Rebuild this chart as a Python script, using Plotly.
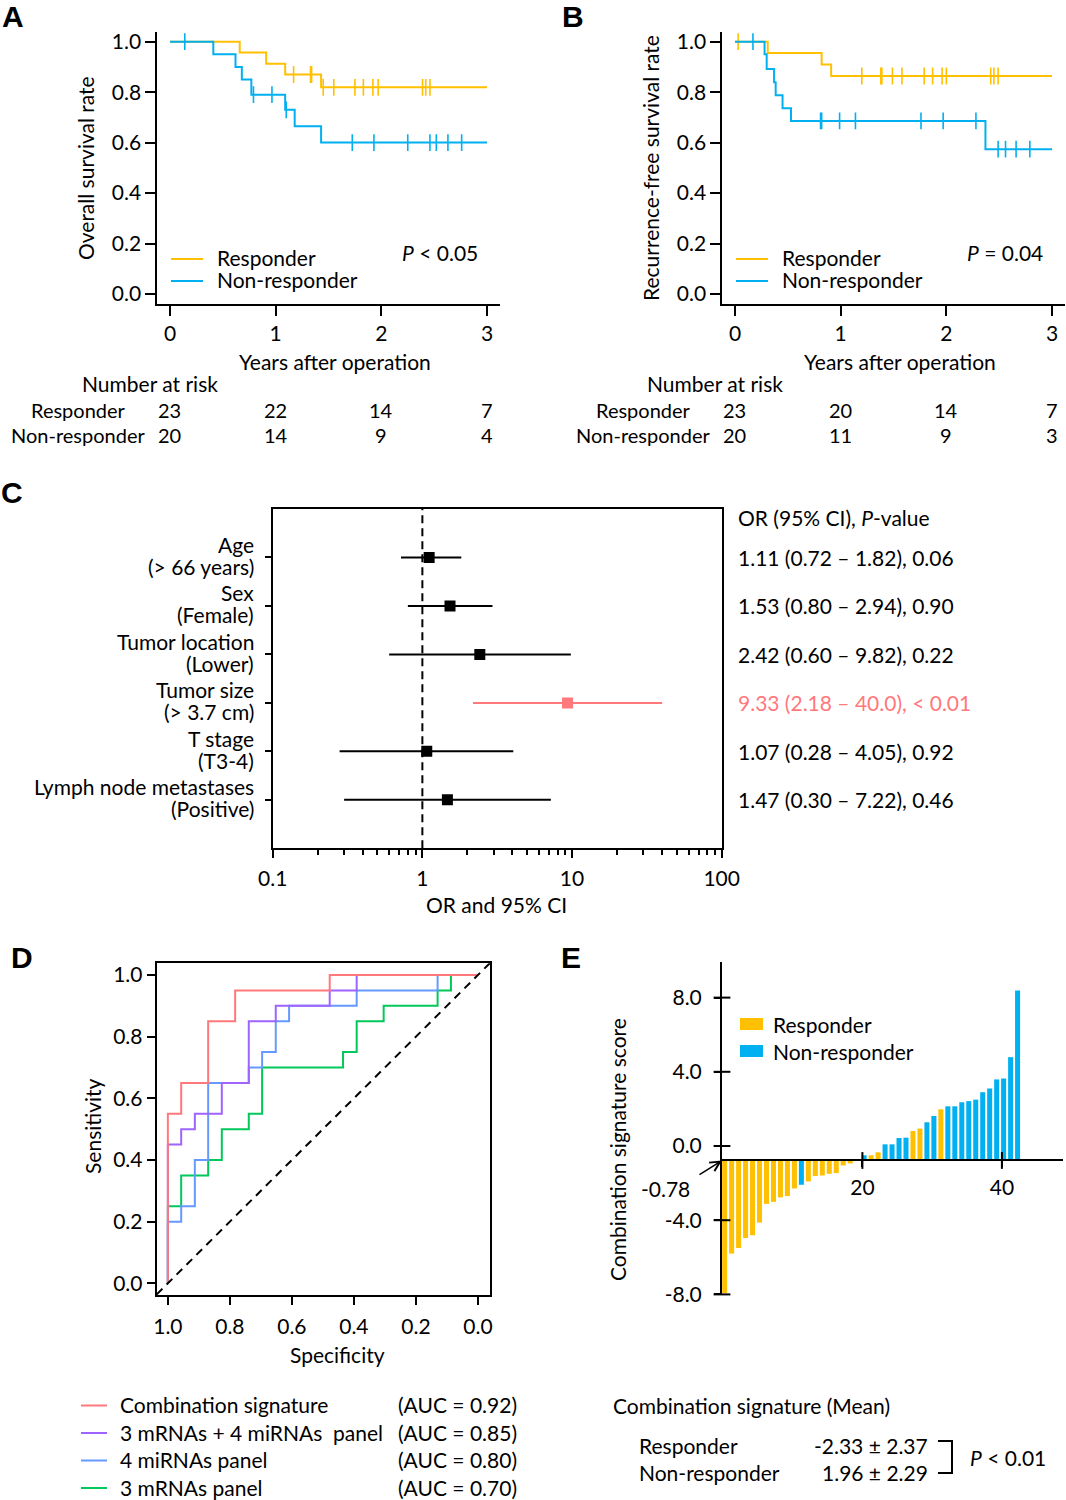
import numpy as np
import plotly.graph_objects as go

W, H = 1066, 1500
def PX(p): return p / W
def PY(p): return 1 - p / H

FONT = "Lato"
FS = 21
YEL = "#FFC000"
BLU = "#00B0F0"
PINK = "#FF787C"

# ---------------- Panel A : overall survival ----------------
a_resp_time = [0.0, 0.66, 0.91, 1.09, 1.43, 3.0]
a_resp_surv = [1.0, 0.957, 0.913, 0.870, 0.819, 0.819]
a_resp_cens = [1.17, 1.33, 1.34, 1.45, 1.55, 1.75, 1.83, 1.92, 1.97, 2.39, 2.42, 2.46]
a_non_time = [0.0, 0.41, 0.62, 0.68, 0.77, 1.09, 1.18, 1.43, 3.0]
a_non_surv = [1.0, 0.95, 0.90, 0.85, 0.79, 0.73, 0.665, 0.60, 0.60]
a_non_cens = [0.14, 0.79, 0.965, 1.10, 1.725, 1.93, 2.25, 2.46, 2.52, 2.63, 2.76]
a_risk_resp = [23, 22, 14, 7]
a_risk_non = [20, 14, 9, 4]

# ---------------- Panel B : recurrence-free survival ----------------
b_resp_time = [0.0, 0.31, 0.82, 0.91, 3.0]
b_resp_surv = [1.0, 0.955, 0.91, 0.864, 0.864]
b_resp_cens = [0.03, 1.20, 1.38, 1.39, 1.49, 1.58, 1.79, 1.87, 1.96, 2.00, 2.42, 2.45, 2.49]
b_non_time = [0.0, 0.28, 0.30, 0.37, 0.385, 0.45, 0.53, 2.37, 3.0]
b_non_surv = [1.0, 0.95, 0.892, 0.839, 0.788, 0.736, 0.686, 0.574, 0.574]
b_non_cens = [0.17, 0.81, 0.82, 0.99, 1.14, 1.76, 1.97, 2.28, 2.49, 2.56, 2.66, 2.79]
b_risk_resp = [23, 20, 14, 7]
b_risk_non = [20, 11, 9, 3]
risk_times = [0, 1, 2, 3]
groups = ["Responder", "Non-responder"]

# ---------------- Panel C : forest plot ----------------
c_vars = ["Age", "Sex", "Tumor location", "Tumor size", "T stage", "Lymph node metastases"]
c_levels = ["(> 66 years)", "(Female)", "(Lower)", "(> 3.7 cm)", "(T3-4)", "(Positive)"]
c_or = [1.11, 1.53, 2.42, 9.33, 1.07, 1.47]
c_lo = [0.72, 0.80, 0.60, 2.18, 0.28, 0.30]
c_hi = [1.82, 2.94, 9.82, 40.0, 4.05, 7.22]
c_p = ["0.06", "0.90", "0.22", "< 0.01", "0.92", "0.46"]

# ---------------- Panel D : ROC curves ----------------
roc_names = ["Combination signature", "3 mRNAs + 4 miRNAs  panel", "4 miRNAs panel", "3 mRNAs panel"]
roc_auc = ["0.92", "0.85", "0.80", "0.70"]
roc_spec = [
    [1.0, 1.0, 0.957, 0.870, 0.783, 0.478, 0.0],
    [1.0, 1.0, 0.957, 0.913, 0.826, 0.739, 0.652, 0.478, 0.391, 0.0],
    [1.0, 1.0, 0.957, 0.913, 0.870, 0.739, 0.696, 0.652, 0.609, 0.391, 0.130, 0.0],
    [1.0, 1.0, 0.957, 0.870, 0.826, 0.739, 0.696, 0.435, 0.391, 0.304, 0.130, 0.087, 0.0],
]
roc_sens = [
    [0.0, 0.55, 0.65, 0.85, 0.95, 1.0, 1.0],
    [0.0, 0.45, 0.50, 0.55, 0.65, 0.85, 0.90, 0.95, 1.0, 1.0],
    [0.0, 0.20, 0.25, 0.40, 0.65, 0.70, 0.75, 0.85, 0.90, 0.95, 1.0, 1.0],
    [0.0, 0.25, 0.35, 0.40, 0.50, 0.55, 0.70, 0.75, 0.85, 0.90, 0.95, 1.0, 1.0],
]
roc_colors = [PINK, "#9F63FF", "#6699FF", "#00C85A"]

# ---------------- Panel E : waterfall ----------------
e_score = [-7.92, -5.80, -5.50, -4.96, -4.81, -4.13, -3.12, -3.01, -2.77, -2.70, -2.29,
           -2.09, -1.91, -1.62, -1.59, -1.50, -1.46, -1.05, -0.94, -0.80, -0.50, -0.50,
           -0.34, 0.09, 0.09, 0.43, 0.45, 0.81, 0.94, 1.28, 1.62, 1.98, 2.14, 2.14, 2.36,
           2.42, 2.50, 2.90, 3.10, 3.59, 3.64, 4.79, 8.38]
e_group = (["R"] * 11 + ["N"] + ["R"] * 7 + ["N", "N", "R", "R", "N", "N", "N", "N",
           "R", "R", "N", "N", "R"] + ["N"] * 11)
e_threshold = -0.78
e_mean_text = ["-2.33 \u00b1 2.37", "1.96 \u00b1 2.29"]

fig = go.Figure()

# ---------- KM curves ----------
def step_at(times, surv, t):
    idx = np.searchsorted(np.array(times), np.array(t), side="right") - 1
    return [surv[i] for i in idx]

def km(times, surv, cens, color, xa, ya, name):
    fig.add_trace(go.Scatter(x=times, y=surv, mode="lines", name=name,
                             line=dict(color=color, width=2, shape="hv"),
                             xaxis=xa, yaxis=ya, showlegend=False, hoverinfo="skip"))
    fig.add_trace(go.Scatter(x=cens, y=step_at(times, surv, cens), mode="markers",
                             marker=dict(symbol="line-ns", size=12, line=dict(color=color, width=1.6)),
                             xaxis=xa, yaxis=ya, showlegend=False, hoverinfo="skip"))

km(a_resp_time, a_resp_surv, a_resp_cens, YEL, "x", "y", groups[0])
km(a_non_time, a_non_surv, a_non_cens, BLU, "x", "y", groups[1])
km(b_resp_time, b_resp_surv, b_resp_cens, YEL, "x2", "y2", groups[0])
km(b_non_time, b_non_surv, b_non_cens, BLU, "x2", "y2", groups[1])

# ---------- forest ----------
rows = list(range(1, len(c_vars) + 1))
sig = [p.startswith("<") for p in c_p]
for flag, col in [(False, "black"), (True, PINK)]:
    xs, ys = [], []
    for r, lo, hi, s in zip(rows, c_lo, c_hi, sig):
        if s == flag:
            xs += [lo, hi, None]
            ys += [r, r, None]
    fig.add_trace(go.Scatter(x=xs, y=ys, mode="lines", line=dict(color=col, width=2),
                             xaxis="x3", yaxis="y3", showlegend=False, hoverinfo="skip"))
    fig.add_trace(go.Scatter(x=[o for o, s in zip(c_or, sig) if s == flag],
                             y=[r for r, s in zip(rows, sig) if s == flag],
                             mode="markers", marker=dict(symbol="square", size=11, color=col),
                             xaxis="x3", yaxis="y3", showlegend=False, hoverinfo="skip"))

# ---------- ROC ----------
for i in reversed(range(len(roc_names))):
    fig.add_trace(go.Scatter(x=roc_spec[i], y=roc_sens[i], mode="lines", name=roc_names[i],
                             line=dict(color=roc_colors[i], width=2, shape="hv"),
                             xaxis="x4", yaxis="y4", showlegend=False, hoverinfo="skip"))

# ---------- waterfall ----------
bar_pos = np.arange(1, len(e_score) + 1) - 0.75
for g, col in [("R", YEL), ("N", BLU)]:
    m = [gg == g for gg in e_group]
    fig.add_trace(go.Bar(x=bar_pos[m], y=[s - e_threshold for s, k in zip(e_score, m) if k],
                         base=e_threshold, width=0.72, marker=dict(color=col, line=dict(width=0)),
                         xaxis="x5", yaxis="y5", showlegend=False, hoverinfo="skip"))

# axis geometry
common = dict(showline=True, linecolor="black", linewidth=2, ticks="outside", tickcolor="black",
              tickwidth=2, showgrid=False, zeroline=False, automargin=False,
              tickfont=dict(family=FONT, size=FS, color="black"))
surv_ticks = [0, 0.2, 0.4, 0.6, 0.8, 1.0]
ex_range = [-0.13, 48.76]
ey_range = [-8.0, 9.92]
ey_dom = [PY(1294.4), PY(962)]
ex_pos = ey_dom[0] + (e_threshold - ey_range[0]) / (ey_range[1] - ey_range[0]) * (ey_dom[1] - ey_dom[0])
d_xr = [1.036, -0.039]
d_yr = [-0.038, 1.038]

fig.update_layout(
    width=W, height=H, margin=dict(l=0, r=0, t=0, b=0, autoexpand=False),
    paper_bgcolor="white", plot_bgcolor="white", showlegend=False,
    font=dict(family=FONT, size=FS, color="black"), barmode="overlay",
    xaxis=dict(domain=[PX(157.3), PX(499.7)], range=[-0.12, 3.12], anchor="y",
               tickvals=risk_times, ticklen=10, **common),
    yaxis=dict(domain=[PY(304.1), PY(31.6)], range=[-0.04, 1.04], anchor="x",
               tickvals=surv_ticks, ticktext=[f"{v:.1f}" for v in surv_ticks], ticklen=10, **common),
    xaxis2=dict(domain=[PX(722.3), PX(1064.7)], range=[-0.12, 3.12], anchor="y2",
                tickvals=risk_times, ticklen=10, **common),
    yaxis2=dict(domain=[PY(304.1), PY(31.6)], range=[-0.04, 1.04], anchor="x2",
                tickvals=surv_ticks, ticktext=[f"{v:.1f}" for v in surv_ticks], ticklen=10, **common),
    xaxis3=dict(domain=[PX(272.7), PX(721.7)], type="log", range=[-1, 2], anchor="y3",
                tickvals=[0.1, 1, 10, 100], ticktext=["0.1", "1", "10", "100"], ticklen=8,
                mirror=True, ticklabelstandoff=2,
                minor=dict(tickvals=[k * 10.0 ** e for e in (-1, 0, 1) for k in range(2, 10)],
                           ticks="outside", ticklen=5, tickcolor="black", tickwidth=1.5),
                **common),
    yaxis3=dict(domain=[PY(848.3), PY(509)], range=[7, 0], anchor="x3", tickvals=rows,
                showticklabels=False, ticklen=6, mirror=True, **common),
    xaxis4=dict(domain=[PX(156.7), PX(490)], range=d_xr, anchor="y4",
                tickvals=[1.0, 0.8, 0.6, 0.4, 0.2, 0.0], ticktext=["1.0", "0.8", "0.6", "0.4", "0.2", "0.0"],
                ticklen=8, mirror=True, ticklabelstandoff=4, **common),
    yaxis4=dict(domain=[PY(1295), PY(963.3)], range=d_yr, anchor="x4",
                tickvals=surv_ticks, ticktext=[f"{v:.1f}" for v in surv_ticks],
                ticklen=8, mirror=True, **common),
    xaxis5=dict(domain=[PX(722), PX(1063)], range=ex_range, anchor="free", position=ex_pos,
                tickvals=[20, 40], ticklen=6, ticklabelstandoff=2, **common),
    yaxis5=dict(domain=ey_dom, range=ey_range, anchor="x5", tickvals=[-8, -4, 0, 4, 8],
                ticktext=[f"{v:.1f}" for v in [-8, -4, 0, 4, 8]], ticklen=6, ticklabelstandoff=8, **common),
)

# crossing tick marks for panel E
fig.add_trace(go.Scatter(x=[20, 40], y=[e_threshold, e_threshold], mode="markers",
                         marker=dict(symbol="line-ns", size=12, line=dict(color="black", width=2)),
                         xaxis="x5", yaxis="y5", cliponaxis=False, showlegend=False, hoverinfo="skip"))
fig.add_trace(go.Scatter(x=[ex_range[0]] * 5, y=[-8, -4, 0, 4, 8], mode="markers",
                         marker=dict(symbol="line-ew", size=12, line=dict(color="black", width=2)),
                         xaxis="x5", yaxis="y5", cliponaxis=False, showlegend=False, hoverinfo="skip"))

# reference lines
fig.add_shape(type="line", xref="x3", yref="y3 domain", x0=1, x1=1, y0=0, y1=1,
              line=dict(color="black", width=2, dash="8px,5px"))
fig.add_shape(type="line", xref="x4", yref="y4", x0=d_xr[0], y0=1 - d_xr[0], x1=d_xr[1], y1=1 - d_xr[1],
              line=dict(color="black", width=2, dash="8px,6px"))

# ---------- text helpers ----------
def T(text, x, y, xanchor="center", size=FS, angle=0, color="black", family=FONT, pad=1):
    fig.add_annotation(text=text, x=PX(x), y=PY(y), xref="paper", yref="paper", xanchor=xanchor,
                       yanchor="middle", showarrow=False, textangle=angle, borderpad=pad,
                       font=dict(family=family, size=size, color=color))

def hline(x0, x1, y, color, width=2):
    fig.add_shape(type="line", xref="paper", yref="paper", x0=PX(x0), x1=PX(x1), y0=PY(y), y1=PY(y),
                  line=dict(color=color, width=width))

# panel letters
for letter, x, y in [("A", 13, 16), ("B", 573, 16), ("C", 12, 492), ("D", 22, 957), ("E", 571, 957)]:
    T(f"<b>{letter}</b>", x, y, size=30, family="Liberation Sans", pad=0)

# Panels A and B texts
RFS = 20
risk_rows_y = [410, 435]
for xoff, ylab, ptxt, xa, rr, rn in [(0, "Overall survival rate", "<i>P</i> < 0.05", "x", a_risk_resp, a_risk_non),
                                     (565, "Recurrence-free survival rate", "<i>P</i> = 0.04", "x2", b_risk_resp, b_risk_non)]:
    T(ptxt, 480 + xoff, 252, "right")
    hline(171 + xoff, 203 + xoff, 259, YEL)
    hline(171 + xoff, 203 + xoff, 281, BLU)
    T(groups[0], 215 + xoff, 258, "left")
    T(groups[1], 215 + xoff, 280, "left")
    T("Years after operation", 335 + xoff, 361)
    T(ylab, 86 + xoff, 168, angle=-90)
    T("Number at risk", 80 + xoff, 383, "left")
    for g, yy, vals in zip(groups, risk_rows_y, [rr, rn]):
        T(g, 78 + xoff, yy, size=RFS, pad=0)
        for t, v in zip(risk_times, vals):
            fig.add_annotation(text=str(v), x=t, y=PY(yy), xref=xa, yref="paper", showarrow=False,
                               yanchor="middle", borderpad=0,
                               font=dict(family=FONT, size=RFS, color="black"))

# Panel C texts
def fmt(v):
    return f"{v:.1f}" if v >= 10 else f"{v:.2f}"
T("OR (95% CI), <i>P</i>-value", 736, 517, "left")
for r, var, lev, o, lo, hi, p, s in zip(rows, c_vars, c_levels, c_or, c_lo, c_hi, c_p, sig):
    fig.add_annotation(text=var, x=PX(255), y=r, xref="paper", yref="y3", xanchor="right",
                       yanchor="middle", yshift=13, showarrow=False, borderpad=0,
                       font=dict(family=FONT, size=FS, color="black"))
    fig.add_annotation(text=lev, x=PX(255), y=r, xref="paper", yref="y3", xanchor="right",
                       yanchor="middle", yshift=-9, showarrow=False, borderpad=0,
                       font=dict(family=FONT, size=FS, color="black"))
    fig.add_annotation(text=f"{fmt(o)} ({fmt(lo)} \u2013 {fmt(hi)}), {p}", x=PX(736), y=r,
                       xref="paper", yref="y3", xanchor="left", yanchor="middle", showarrow=False,
                       font=dict(family=FONT, size=FS, color=PINK if s else "black"))
T("OR and 95% CI", 496, 904)

# Panel D texts
T("Specificity", 337, 1354)
T("Sensitivity", 92, 1126, angle=-90)
for i, (nm, auc, col) in enumerate(zip(roc_names, roc_auc, roc_colors)):
    yy = 1405.5 + i * 27.5
    hline(81, 107, yy, col)
    T(nm.replace("  ", "&nbsp; "), 118, yy - 1, "left")
    T(f"(AUC = {auc})", 396, yy - 1, "left")

# Panel E texts
T("Combination signature score", 617, 1150, angle=-90)
T(f"{e_threshold:.2f}", 665, 1188)
fig.add_annotation(x=ex_range[0], y=e_threshold, xref="x5", yref="y5", ax=-24, ay=15, text="",
                   showarrow=True, arrowhead=5, arrowsize=1.3, arrowwidth=1.5, arrowcolor="black")
for yy, col, nm in [(1024, YEL, groups[0]), (1051, BLU, groups[1])]:
    fig.add_shape(type="rect", xref="paper", yref="paper", x0=PX(740), x1=PX(763), y0=PY(yy + 6),
                  y1=PY(yy - 6), fillcolor=col, line=dict(width=0))
    T(nm, 771, yy, "left")
T("Combination signature (Mean)", 611, 1405, "left")
T(groups[0], 637, 1445, "left")
T(groups[1], 637, 1472, "left")
T(e_mean_text[0], 930, 1445, "right")
T(e_mean_text[1], 930, 1472, "right")
fig.add_shape(type="path", xref="paper", yref="paper",
              path=f"M {PX(938)} {PY(1441)} L {PX(952)} {PY(1441)} L {PX(952)} {PY(1473)} L {PX(938)} {PY(1473)}",
              line=dict(color="black", width=2))
T("<i>P</i> < 0.01", 968, 1457, "left")

fig.write_html("out.html", config={"displayModeBar": False},
               post_script="document.body.style.margin='0px';")
